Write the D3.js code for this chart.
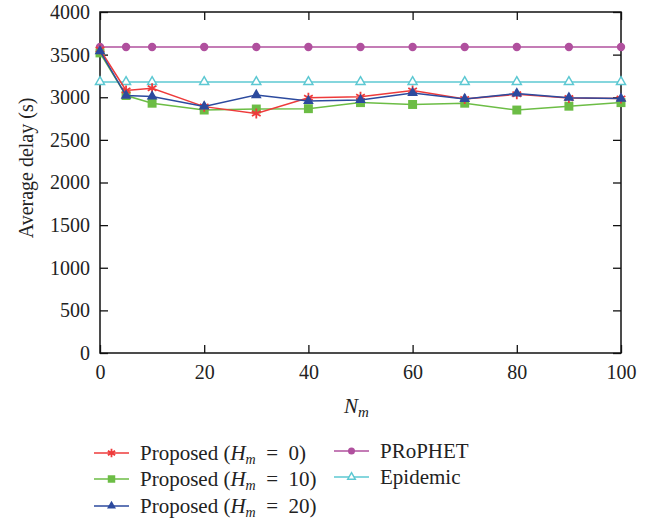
<!DOCTYPE html>
<html>
<head>
<meta charset="utf-8">
<script src="https://cdn.jsdelivr.net/npm/d3@7"></script>
<style>
  body { margin: 0; background: #fff; }
</style>
</head>
<body>
<div class="canvas"></div>
<script>
// data
const nm = [0, 5, 10, 20, 30, 40, 50, 60, 70, 80, 90, 100];
const proposed0  = [3560, 3080, 3105, 2890, 2810, 2995, 3005, 3080, 2980, 3035, 2990, 2985];
const proposed10 = [3520, 3020, 2930, 2850, 2862, 2866, 2937, 2915, 2930, 2850, 2895, 2937];
const proposed20 = [3540, 3020, 3010, 2893, 3026, 2956, 2968, 3050, 2980, 3045, 2995, 2985];
const prophet    = [3590, 3590, 3590, 3590, 3590, 3590, 3590, 3590, 3590, 3590, 3590, 3590];
const epidemic   = [3180, 3180, 3180, 3180, 3180, 3180, 3180, 3180, 3180, 3180, 3180, 3180];
const xTicks = [0, 20, 40, 60, 80, 100];
const yTicks = [0, 500, 1000, 1500, 2000, 2500, 3000, 3500, 4000];

const series = [
    {name: 'Proposed', h: '0',  values: proposed0,  color: '#ee3b3b', marker: 'star'},
    {name: 'Proposed', h: '10', values: proposed10, color: '#6cbd45', marker: 'square'},
    {name: 'Proposed', h: '20', values: proposed20, color: '#2c4a9e', marker: 'triangle'},
    {name: 'PRoPHET',  values: prophet,  color: '#b0509e', marker: 'circle'},
    {name: 'Epidemic', values: epidemic, color: '#5cc8d2', marker: 'triangleOpen'}
];

const FONT = '"Liberation Serif", "DejaVu Serif", serif';

const svg = d3.select('.canvas')
    .append('svg')
        .attr('width', 649)
        .attr('height', 523)
        .style('font-family', FONT);

const margin = {top: 12, left: 100, right: 28, bottom: 170};
const graphWidth = 649 - margin.left - margin.right;
const graphHeight = 523 - margin.top - margin.bottom;

const graph = svg.append('g')
    .attr('transform', `translate(${margin.left},${margin.top})`);

const x = d3.scaleLinear().domain([0, 100]).range([0, graphWidth]);
const y = d3.scaleLinear().domain([0, 4000]).range([graphHeight, 0]);

// axes with inward ticks, mirrored on top and right
const styleAxis = g => {
    g.attr('font-family', null).style('font-family', FONT);
    g.select('.domain').remove();
    g.selectAll('line').attr('stroke', '#111').attr('stroke-width', 1.3);
    g.selectAll('text')
        .style('font-family', FONT)
        .style('font-size', '20px')
        .attr('fill', '#222');
};

graph.append('g')
    .attr('transform', `translate(0,${graphHeight})`)
    .call(d3.axisBottom(x).tickValues(xTicks).tickSize(-8).tickPadding(12).tickFormat(d3.format('d')))
    .call(styleAxis);
graph.append('g')
    .call(d3.axisLeft(y).tickValues(yTicks).tickSize(-8).tickPadding(10).tickFormat(d3.format('d')))
    .call(styleAxis);
graph.append('g')
    .call(d3.axisTop(x).tickValues(xTicks).tickSize(-8).tickFormat(''))
    .call(styleAxis);
graph.append('g')
    .attr('transform', `translate(${graphWidth},0)`)
    .call(d3.axisRight(y).tickValues(yTicks).tickSize(-8).tickFormat(''))
    .call(styleAxis);

graph.append('rect')
    .attr('width', graphWidth)
    .attr('height', graphHeight)
    .attr('fill', 'none')
    .attr('stroke', '#111')
    .attr('stroke-width', 1.5);

const symbols = {
    star: d3.symbolAsterisk,
    square: d3.symbolSquare,
    triangle: d3.symbolTriangle,
    circle: d3.symbolCircle,
    triangleOpen: d3.symbolTriangle
};
const symbolSize = {star: 70, square: 80, triangle: 50, circle: 55, triangleOpen: 35};

const drawMarker = (sel, s, scale = 1) => {
    sel.attr('d', d3.symbol().type(symbols[s.marker]).size(symbolSize[s.marker] * scale))
        .attr('fill', s.marker === 'triangleOpen' ? '#fff' : (s.marker === 'star' ? 'none' : s.color))
        .attr('stroke', s.color)
        .attr('stroke-width', s.marker === 'star' ? 1.8 : (s.marker === 'triangleOpen' ? 1.5 : 0));
};

const line = d3.line()
    .x((d, i) => x(nm[i]))
    .y(d => y(d));

// draw back to front so the proposed series sit on top
[3, 4, 1, 0, 2].forEach(k => {
    const s = series[k];
    graph.append('path')
        .datum(s.values)
        .attr('d', line)
        .attr('fill', 'none')
        .attr('stroke', s.color)
        .attr('stroke-width', 1.5);
    graph.selectAll(null)
        .data(s.values)
        .enter()
        .append('path')
            .attr('transform', (d, i) => `translate(${x(nm[i])},${y(d)})`)
            .call(drawMarker, s);
});

// axis titles
svg.append('text')
    .attr('transform', 'translate(33,168) rotate(-90)')
    .attr('text-anchor', 'middle')
    .attr('fill', '#222')
    .style('font-size', '20px')
    .text('Average delay (s)');

const xl = svg.append('text')
    .attr('x', margin.left + graphWidth / 2 - 4)
    .attr('y', 413)
    .attr('text-anchor', 'middle')
    .attr('fill', '#222')
    .style('font-size', '21px')
    .style('font-style', 'italic');
xl.append('tspan').text('N');
xl.append('tspan').attr('dy', 4).style('font-size', '15px').text('m');

// legend
const legendPos = [
    {x: 94, y: 453}, {x: 94, y: 479}, {x: 94, y: 506},
    {x: 334, y: 451}, {x: 334, y: 477}
];
series.forEach((s, k) => {
    const p = legendPos[k];
    const g = svg.append('g').attr('transform', `translate(${p.x},${p.y})`);
    g.append('line')
        .attr('x1', 0).attr('x2', 35)
        .attr('stroke', s.color).attr('stroke-width', 1.5);
    g.append('path')
        .attr('transform', 'translate(17.5,0)')
        .call(drawMarker, s, 0.7);
    const t = g.append('text')
        .attr('x', 46)
        .attr('y', 7)
        .attr('fill', '#222')
        .style('font-size', '21px');
    if (s.h !== undefined) {
        t.append('tspan').text(s.name + ' (');
        t.append('tspan').style('font-style', 'italic').text('H');
        t.append('tspan').attr('dy', 4).style('font-size', '14px').style('font-style', 'italic').text('m');
        t.append('tspan').attr('dy', -4).text('\u2002=\u2002' + s.h + ')');
    } else {
        t.text(s.name);
    }
});
</script>
</body>
</html>
